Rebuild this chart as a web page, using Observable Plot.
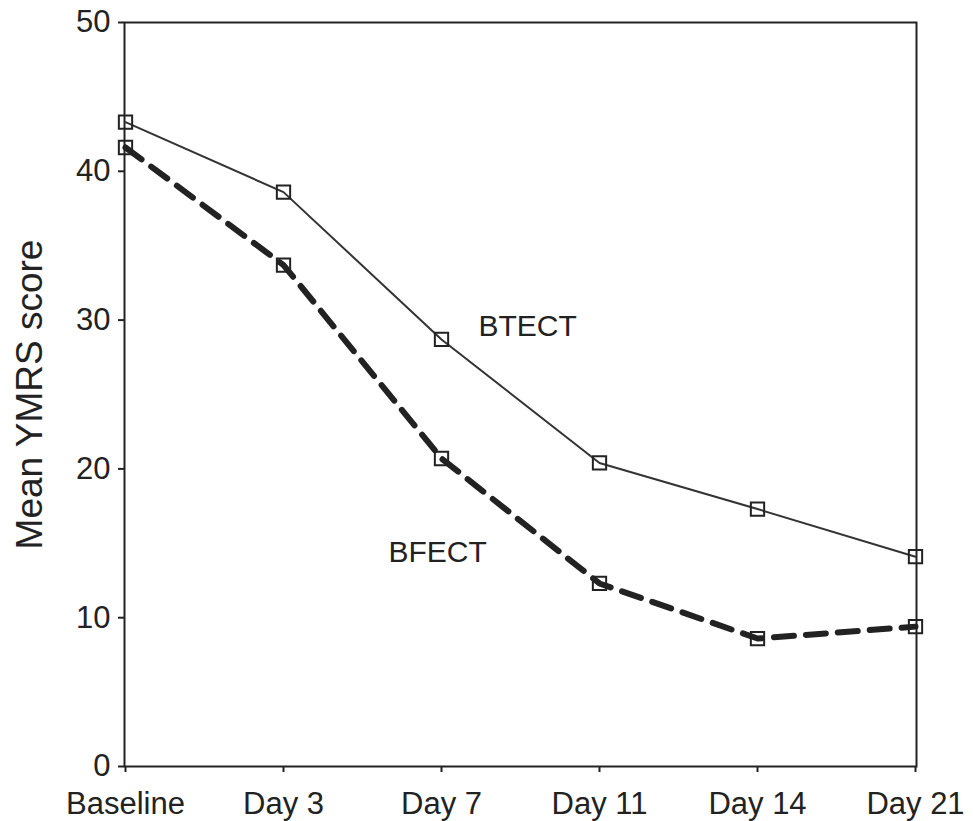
<!DOCTYPE html>
<html>
<head>
<meta charset="utf-8">
<script src="https://cdn.jsdelivr.net/npm/d3@7"></script>
<script src="https://cdn.jsdelivr.net/npm/@observablehq/plot@0.6"></script>
<style>
  html, body { margin: 0; padding: 0; background: #fff; }
  svg { font-family: "Liberation Sans", Arial, sans-serif; }
</style>
</head>
<body>
<div id="chart"></div>
<script>
const days = ["Baseline", "Day 3", "Day 7", "Day 11", "Day 14", "Day 21"];
const btect = [43.3, 38.6, 28.7, 20.4, 17.3, 14.1];
const bfect = [41.6, 33.7, 20.7, 12.3, 8.6, 9.4];
const yTicks = [0, 10, 20, 30, 40, 50];
const labelBTECT = [{text: "BTECT", day: "Day 7", value: 29.6}];
const labelBFECT = [{text: "BFECT", day: "Day 7", value: 14.4}];

const dataT = days.map((d, i) => ({day: d, v: btect[i]}));
const dataF = days.map((d, i) => ({day: d, v: bfect[i]}));

const chart = Plot.plot({
  width: 973,
  height: 821,
  marginLeft: 124,
  marginRight: 57,
  marginTop: 22,
  marginBottom: 55,
  style: {fontSize: "31px", color: "#222", background: "#fff", fontFamily: "'Liberation Sans', Arial, sans-serif"},
  x: {type: "point", domain: days, padding: 0, label: null},
  y: {domain: [0, 50], ticks: yTicks, label: null},
  marks: [
    Plot.frame({stroke: "#222", strokeWidth: 2}),
    Plot.axisX({tickSize: 6, tickPadding: 19, fontSize: 31, stroke: "#222", strokeWidth: 2, label: null}),
    Plot.axisY({ticks: yTicks, tickSize: 6, tickPadding: 8, fontSize: 31, stroke: "#222", strokeWidth: 2, label: null}),
    Plot.text(["Mean YMRS score"], {frameAnchor: "left", dx: -94, rotate: -90, textAnchor: "middle", fontSize: 37, fill: "#222"}),
    Plot.line(dataT, {x: "day", y: "v", stroke: "#333", strokeWidth: 2}),
    Plot.line(dataF, {x: "day", y: "v", stroke: "#222", strokeWidth: 6, strokeDasharray: "20,12"}),
    Plot.dot(dataT, {x: "day", y: "v", symbol: "square", r: 7.5, stroke: "#222", fill: "none", strokeWidth: 2}),
    Plot.dot(dataF, {x: "day", y: "v", symbol: "square", r: 7.5, stroke: "#222", fill: "none", strokeWidth: 2}),
    Plot.text(labelBTECT, {x: "day", y: "value", text: "text", dx: 37, textAnchor: "start", fontSize: 30, fill: "#222"}),
    Plot.text(labelBFECT, {x: "day", y: "value", text: "text", dx: -53, textAnchor: "start", fontSize: 30, fill: "#222"})
  ]
});
document.getElementById("chart").appendChild(chart);
</script>
</body>
</html>
